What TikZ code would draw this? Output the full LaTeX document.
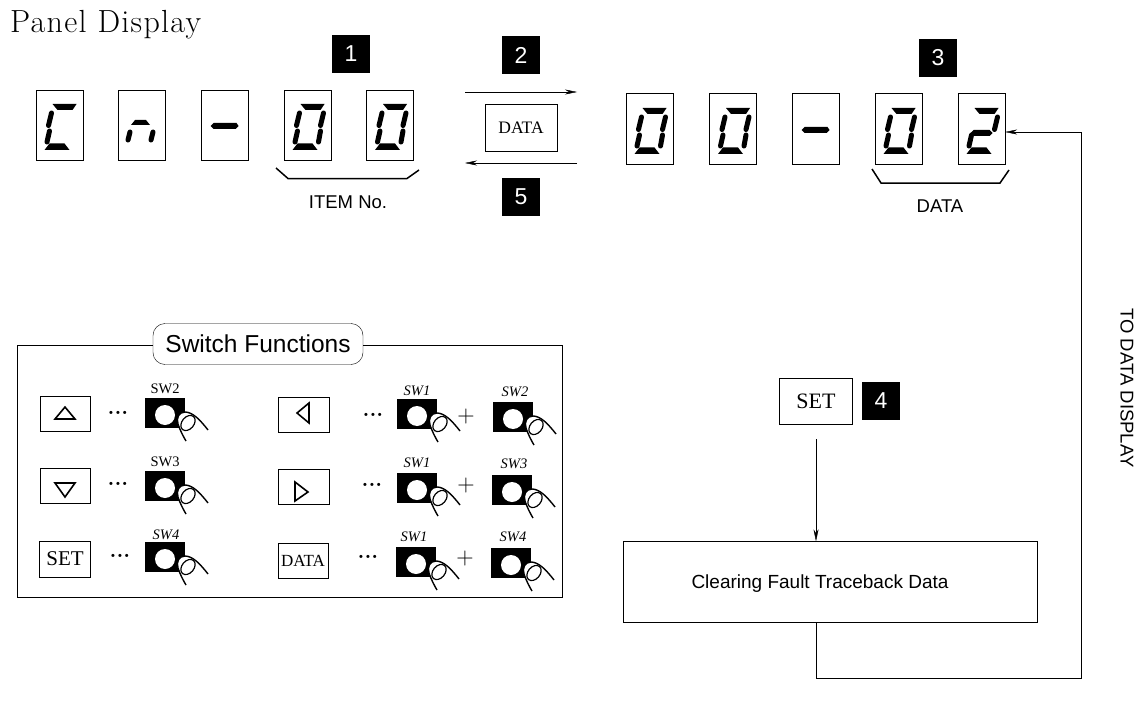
\documentclass[tikz,border=0pt]{standalone}
\usepackage{fontspec}
\newfontfamily\sansf{Liberation Sans}
\newfontfamily\serifx{Liberation Serif}
\newfontfamily\titlef[LetterSpace=4]{Latin Modern Roman}
\usetikzlibrary{arrows.meta}
\tikzset{
  x=1pt,y=-1pt,
  line width=1.3pt,
  digitbox/.style={draw,minimum width=47pt,minimum height=70pt,inner sep=0pt},
  digitboxb/.style={draw,minimum width=47pt,minimum height=71pt,inner sep=0pt},
  badge/.style={fill=black,text=white,font=\sansf\fontsize{23}{23}\selectfont,minimum width=38pt,minimum height=38pt,inner sep=0pt},
  keybox/.style={draw,minimum width=50pt,minimum height=35pt,inner sep=0pt,font=\serifx\fontsize{21}{21}\selectfont},
  swlabel/.style={font=\serifx\fontsize{14.5}{14.5}\selectfont,inner sep=0pt},
  swlabeli/.style={font=\serifx\itshape\fontsize{14.5}{14.5}\selectfont,inner sep=0pt},
  dotsl/.style={font=\bfseries\fontsize{22}{22}\selectfont,inner sep=0pt},
  plusl/.style={font=\fontsize{24}{24}\selectfont,inner sep=0pt},
  caption/.style={font=\sansf\fontsize{18.5}{18.5}\selectfont,inner sep=0pt},
  conn/.style={-{Stealth[length=12pt,width=5pt]}},
  tri/.style={line width=1.6pt,line join=miter},
  pushbtn/.pic={
    \fill (0,0) rectangle (40,30);
    \fill[white] (20,17) circle (10);
    \draw[fill=white,line width=1.4pt] (63,32) .. controls (56,23) and (48,14) .. (40,14)
       .. controls (34,14) and (31,20) .. (33,26) .. controls (35,32) and (38,38) .. (41,43);
    \draw[line width=1.2pt,rotate around={-40:(43,25)}] (43,25) ellipse (6 and 8.5);
  }
}
\newcommand\sega{\fill (-7,-21)--(17,-21)--(13,-15)--(-2,-15)--cycle;}
\newcommand\segd{\fill (-15,25)--(10,25)--(5,18.5)--(-10,18.5)--cycle;}
\newcommand\segb{\draw[line width=5pt,line cap=round] (16,-12)--(13,0.5);}
\newcommand\segc{\draw[line width=5pt,line cap=round] (13,6)--(11,17);}
\newcommand\sege{\draw[line width=5pt,line cap=round] (-10,6)--(-12.5,17);}
\newcommand\segf{\draw[line width=5pt,line cap=round] (-8,-12)--(-11,0.5);}
\newcommand\segg{\fill (-8,7)--(8,7)--(11,4)--(8,1)--(-8,1)--(-11,4)--cycle;}
\newcommand\segdash{\fill (-14,1)--(-11,-2)--(12,-2)--(14,1)--(11,4)--(-11,4)--cycle;}
\begin{document}
\begin{tikzpicture}
\useasboundingbox (0,0) rectangle (1146,706);
\node[anchor=base west,inner sep=0pt,font=\titlef\fontsize{32}{32}\selectfont] (title) at (10,33) {Panel Display};

% left display
\node[digitbox] (a1) at (59.5,125) {};
\node[digitbox] (a2) at (142,125) {};
\node[digitbox] (a3) at (224.5,125) {};
\node[digitbox] (a4) at (307.5,125) {};
\node[digitbox] (a5) at (390,125) {};
\begin{scope}[shift={(a1.center)}] \sega\segf\sege\segd \end{scope}
\begin{scope}[shift={(a2.center)}]
  \fill (-11,0)--(-7,-5)--(4,-5)--(8,0)--cycle;
  \draw[line width=5pt,line cap=round] (-12,7)--(-14,15);
  \draw[line width=5pt,line cap=round] (11,7)--(9,15);
\end{scope}
\begin{scope}[shift={(a3.center)}] \segdash \end{scope}
\begin{scope}[shift={(a4.center)}] \sega\segb\segc\segd\sege\segf \end{scope}
\begin{scope}[shift={(a5.center)}] \sega\segb\segc\segd\sege\segf \end{scope}
\node[badge] (b1) at (351,54) {1};
\draw[line width=1.5pt] (276,168)--(288,178.5)--(407,178.5)--(419,170);
\node[caption] (itemno) at (348,202) {ITEM No.};

% centre
\node[badge] (b2) at (521,55) {2};
\node[badge] (b5) at (521,197) {5};
\node[draw,minimum width=72pt,minimum height=47pt,inner sep=0pt,font=\serifx\fontsize{17.5}{17.5}\selectfont] (datakey) at (521,128) {DATA};
\coordinate (t1) at (465,92); \coordinate (t2) at (577,92);
\coordinate (u1) at (577,163); \coordinate (u2) at (465,163);
\draw[conn] (t1)--(t2);
\draw[conn] (u1)--(u2);

% right display
\node[digitboxb] (d1) at (649.5,129) {};
\node[digitboxb] (d2) at (733,129) {};
\node[digitboxb] (d3) at (815.5,129) {};
\node[digitboxb] (d4) at (898.5,129) {};
\node[digitboxb] (d5) at (981.5,129) {};
\begin{scope}[shift={(d1.center)}] \sega\segb\segc\segd\sege\segf \end{scope}
\begin{scope}[shift={(d2.center)}] \sega\segb\segc\segd\sege\segf \end{scope}
\begin{scope}[shift={(d3.center)}] \segdash \end{scope}
\begin{scope}[shift={(d4.center)}] \sega\segb\segc\segd\sege\segf \end{scope}
\begin{scope}[shift={(d5.center)}] \sega\segb\segd\sege\segg \end{scope}
\node[badge] (b3) at (938,58) {3};
\draw[line width=1.5pt] (872,169)--(881,183)--(1000,183)--(1009,170);
\node[caption] (datalabel) at (940,206) {DATA};

% switch functions
\draw (153,345)--(17,345)--(17,597)--(562,597)--(562,345)--(363,345);
\node[draw,rounded corners=12pt,minimum width=210pt,minimum height=41pt,inner sep=0pt,font=\sansf\fontsize{24.5}{24.5}\selectfont] (swf) at (258,344) {Switch Functions};

\node[keybox] (k1) at (65,414) {}; \draw[tri] (55,419)--(75,419)--(65,407)--cycle;
\node[keybox] (k2) at (65,486) {}; \draw[tri] (55,483)--(75,483)--(65,497)--cycle;
\node[keybox,minimum width=51pt,minimum height=36pt] (k3) at (65,559) {SET};
\node[keybox,minimum width=51pt] (k4) at (303.5,415) {}; \draw[tri] (297,413)--(309,403)--(309,423)--cycle;
\node[keybox,minimum width=51pt] (k5) at (303.5,487) {}; \draw[tri] (295,482)--(295,501)--(308,492)--cycle;
\node[keybox,minimum height=35pt,font=\serifx\fontsize{17}{17}\selectfont] (k6) at (303,561) {DATA};

\node[dotsl] (p1) at (118,413) {...};
\node[dotsl] (p2) at (118,484) {...};
\node[dotsl] (p3) at (120,556) {...};
\node[dotsl] (p4) at (373,415) {...};
\node[dotsl] (p5) at (372,485) {...};
\node[dotsl] (p6) at (368,557) {...};

\pic at (145,398) {pushbtn};
\pic at (145,471) {pushbtn};
\pic at (145,542) {pushbtn};
\pic at (397,399) {pushbtn};
\pic at (397,473) {pushbtn};
\pic at (396,547) {pushbtn};
\pic at (493,402) {pushbtn};
\pic at (492,475) {pushbtn};
\pic at (491,548) {pushbtn};

\node[swlabel] (s1) at (165,389) {SW2};
\node[swlabel] (s2) at (165,462) {SW3};
\node[swlabeli] (s3) at (166,535) {SW4};
\node[swlabeli] (s4) at (417,391) {SW1};
\node[swlabeli] (s5) at (417,463) {SW1};
\node[swlabeli] (s6) at (414,537) {SW1};
\node[swlabeli] (s7) at (515,392) {SW2};
\node[swlabeli] (s8) at (514,464) {SW3};
\node[swlabeli] (s9) at (513,537) {SW4};

\node[plusl] (q1) at (466,417) {+};
\node[plusl] (q2) at (466,486) {+};
\node[plusl] (q3) at (465,559) {+};

% flow
\node[draw,minimum width=73pt,minimum height=46pt,inner sep=0pt,font=\serifx\fontsize{22}{22}\selectfont] (setkey) at (816,401) {SET};
\node[badge] (b4) at (881,401) {4};
\node[draw,minimum width=414pt,minimum height=81pt,inner sep=0pt] (clear) at (830,582) {};
\node[font=\sansf\fontsize{19}{19}\selectfont,inner sep=0pt] (cleartext) at (820,584) {Clearing Fault Traceback Data};
\draw[conn,shorten <=15pt] (setkey.south)--(setkey.south |- clear.north);
\coordinate (c1) at (816,678); \coordinate (c2) at (1081,678); \coordinate (c3) at (1081,132);
\draw[conn] (c1 |- clear.south)--(c1)--(c2)--(c3)--(c3 -| d5.east);
\node[rotate=-90,font=\sansf\fontsize{18.5}{18.5}\selectfont,inner sep=0pt] (todisp) at (1127,388) {TO DATA DISPLAY};
\end{tikzpicture}
\end{document}
